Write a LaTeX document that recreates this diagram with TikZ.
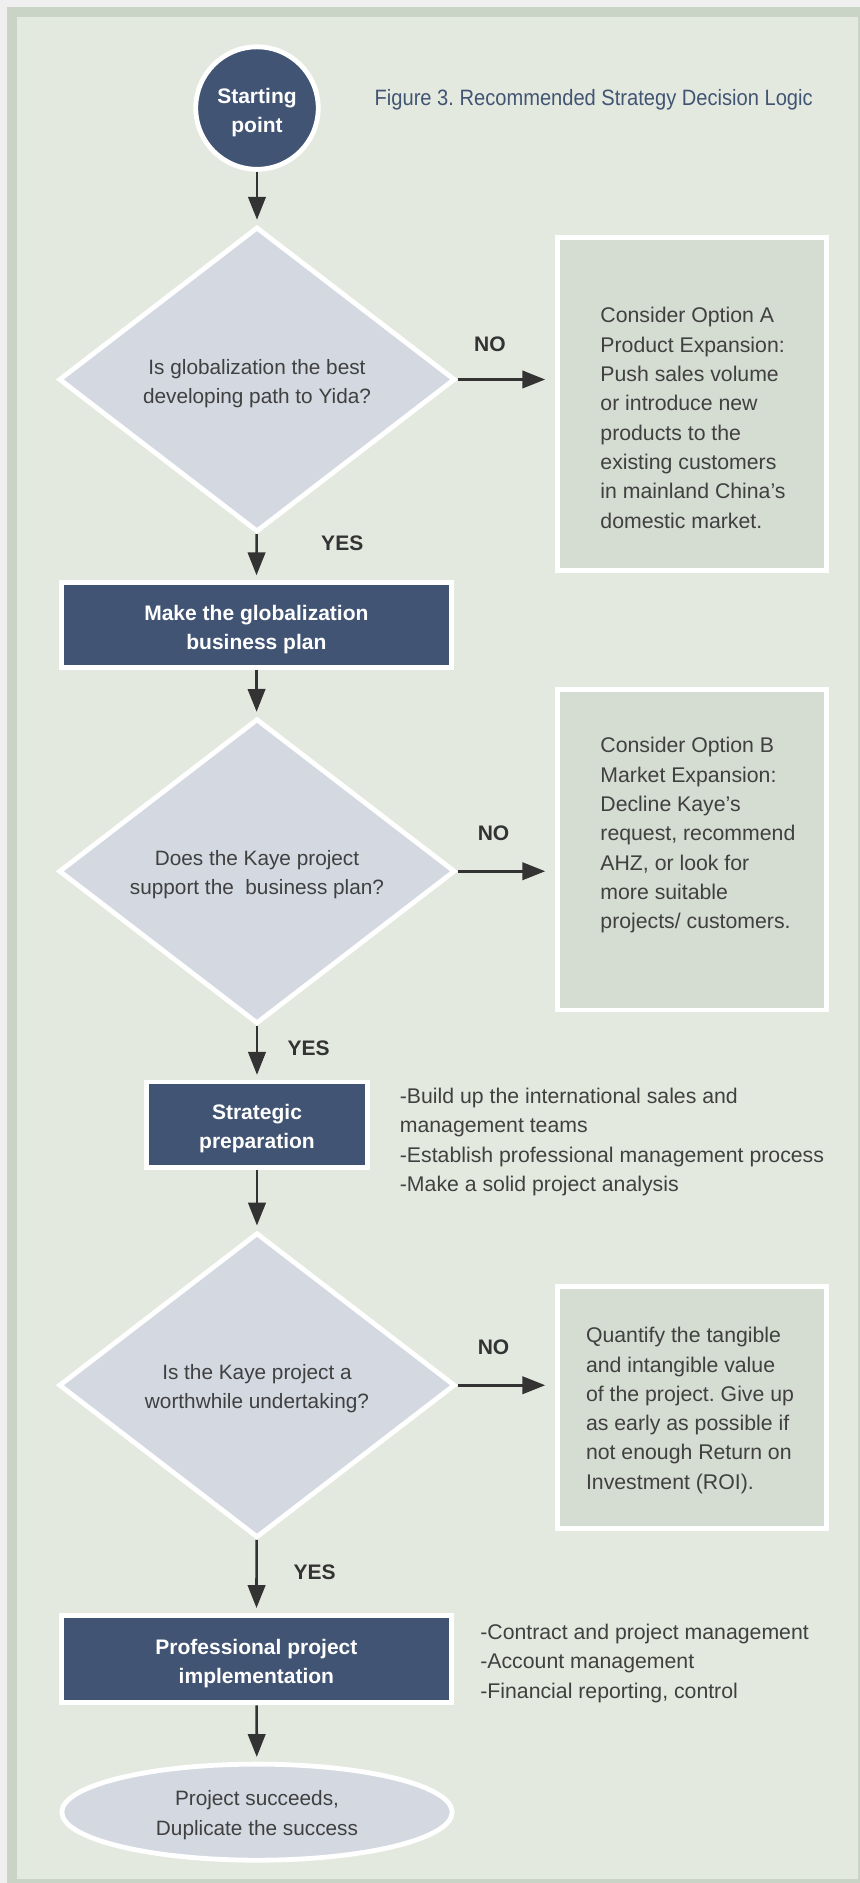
\documentclass[tikz,border=0pt]{standalone}
\usepackage{fontspec}
\setmainfont{Liberation Sans}
\newfontfamily\titlefont[FakeStretch=0.905]{Liberation Sans}
\usetikzlibrary{shapes.geometric,arrows.meta}
\definecolor{pagegrey}{HTML}{EFEFEF}
\definecolor{bandgreen}{HTML}{CAD4C6}
\definecolor{bggreen}{HTML}{E4E9E0}
\definecolor{navy}{HTML}{415473}
\definecolor{diamfill}{HTML}{D3D8E1}
\definecolor{optfill}{HTML}{D5DCD2}
\definecolor{txt}{HTML}{404040}
\definecolor{arrowc}{HTML}{333333}
\frenchspacing
\begin{document}
\begin{tikzpicture}[x=1pt,y=-1pt,
  every node/.style={inner sep=0pt, outer sep=0pt},
  navybox/.style={rectangle, fill=navy, draw=white, line width=4pt, outer sep=2pt},
  navytext/.style={text=white, font=\bfseries\fontsize{17.5}{24.2}\selectfont, align=center},
  decision/.style={diamond, fill=diamfill, draw=white, line width=4pt, outer sep=2pt,
    minimum width=330pt, minimum height=254pt},
  lighttext/.style={text=txt, font=\fontsize{17.3}{24.4}\selectfont, align=center},
  optbox/.style={rectangle, fill=optfill, draw=white, line width=4pt, outer sep=2pt,
    minimum width=224pt},
  bodytext/.style={text=txt, font=\fontsize{17.7}{24.4}\selectfont, align=left, anchor=west},
  answer/.style={text=arrowc, font=\bfseries\fontsize{17.5}{20}\selectfont},
  arr/.style={draw=arrowc, line width=2.2pt, -{Triangle[length=19pt,width=14.5pt]}, shorten >=4pt}
]
\useasboundingbox (0,0) rectangle (716,1568);
% frame
\fill[pagegrey] (0,0) rectangle (716,1568);
\fill[bandgreen] (5.8,5.8) rectangle (716,1568);
\fill[bggreen] (14.4,14.4) rectangle (714.8,1564.6);

% title
\node[anchor=west, text=navy, font=\titlefont\fontsize{18.5}{22}\selectfont] (title) at (312,83)
  {Figure 3. Recommended Strategy Decision Logic};

% start
\node[circle, fill=navy, draw=white, line width=4pt, outer sep=2pt, minimum size=102pt] (start) at (214,90) {};
\node[navytext] (startt) at ([yshift=-3.5pt]start.center) {Starting\\point};

% decision 1
\node[decision] (d1) at (214,316) {};
\node[lighttext] (d1t) at ([yshift=-3.5pt]d1.center) {Is globalization the best\\developing path to Yida?};
\node[optbox, minimum height=277pt] (boxA) at (576,336.5) {};
\node[bodytext] (tA) at (500,348) {Consider Option A\\Product Expansion:\\Push sales volume\\or introduce new\\products to the\\existing customers\\in mainland China’s\\domestic market.};
\node[answer] (no1) at (408,287) {NO};
\node[answer] (yes1) at (285,452) {YES};

% box 1
\node[navybox, minimum width=325pt, minimum height=71pt] (b1) at (213.5,520.5) {};
\node[navytext] (b1t) at ([yshift=-3.5pt]b1.center) {Make the globalization\\business plan};

% decision 2
\node[decision] (d2) at (214,725.5) {};
\node[lighttext] (d2t) at ([yshift=-3pt]d2.center) {Does the Kaye project\\support the\ \ business plan?};
\node[optbox, minimum height=267pt] (boxB) at (576,707.5) {};
\node[bodytext] (tB) at (500,695.5) {Consider Option B\\Market Expansion:\\Decline Kaye’s\\request, recommend\\AHZ, or look for\\more suitable\\projects/ customers.};
\node[answer] (no2) at (411,694) {NO};
\node[answer] (yes2) at (257,873) {YES};

% box 2
\node[navybox, minimum width=184pt, minimum height=71pt] (b2) at (214,936.5) {};
\node[navytext] (b2t) at ([yshift=-3.5pt]b2.center) {Strategic\\preparation};
\node[bodytext] (t2) at (333,951) {-Build up the international sales and\\management teams\\-Establish professional management process\\-Make a solid project analysis};

% decision 3
\node[decision] (d3) at (214,1153.5) {};
\node[lighttext] (d3t) at ([yshift=-3pt]d3.center) {Is the Kaye project a\\worthwhile undertaking?};
\node[optbox, minimum height=202pt] (boxC) at (576,1172) {};
\node[bodytext] (tC) at (488,1174.5) {Quantify the tangible\\and intangible value\\of the project. Give up\\as early as possible if\\not enough Return on\\Investment (ROI).};
\node[answer] (no3) at (411,1122) {NO};
\node[answer] (yes3) at (262,1309) {YES};

% box 3
\node[navybox, minimum width=325pt, minimum height=73pt] (b3) at (213.5,1381.5) {};
\node[navytext] (b3t) at ([yshift=-4pt]b3.center) {Professional project\\implementation};
\node[bodytext] (t3) at (400,1385) {-Contract and project management\\-Account management\\-Financial reporting, control};

% end
\node[ellipse, fill=diamfill, draw=white, line width=4pt, outer sep=2pt,
  minimum width=325pt, minimum height=80pt] (end) at (214,1509) {};
\node[lighttext] (endt) at ([yshift=-2.5pt]end.center) {Project succeeds,\\Duplicate the success};

% connectors
\draw[arr] (start) -- (d1);
\draw[arr] (d1) -- (b1);
\draw[arr] (b1) -- (d2);
\draw[arr] (d2) -- (b2);
\draw[arr] (b2) -- (d3);
\draw[arr] (d3) -- (b3);
\draw[arr] (b3) -- (end);
\draw[arr, shorten >=8pt] (d1.east) -- (d1.east -| boxA.west);
\draw[arr, shorten >=8pt] (d2.east) -- (d2.east -| boxB.west);
\draw[arr, shorten >=8pt] (d3.east) -- (d3.east -| boxC.west);
\end{tikzpicture}
\end{document}
